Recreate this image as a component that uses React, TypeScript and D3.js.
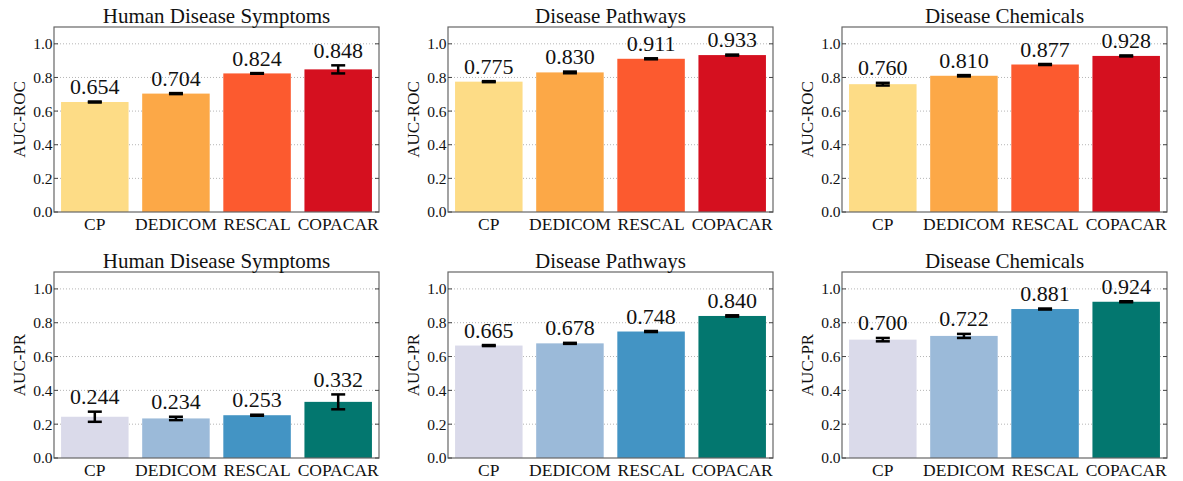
import React from 'react';
import * as d3 from 'd3';

// methods on the x axis, same for every panel
const categories = ['CP', 'DEDICOM', 'RESCAL', 'COPACAR'];
const titles = ['Human Disease Symptoms', 'Disease Pathways', 'Disease Chemicals'];
const yTicks = [0, 0.2, 0.4, 0.6, 0.8, 1.0];

// AUC-ROC means and error (std) per dataset
const rocValues = [
  [0.654, 0.704, 0.824, 0.848],
  [0.775, 0.830, 0.911, 0.933],
  [0.760, 0.810, 0.877, 0.928],
];
const rocErrors = [
  [0.003, 0.003, 0.002, 0.024],
  [0.003, 0.005, 0.003, 0.003],
  [0.008, 0.004, 0.003, 0.003],
];

// AUC-PR means and error per dataset
const prValues = [
  [0.244, 0.234, 0.253, 0.332],
  [0.665, 0.678, 0.748, 0.840],
  [0.700, 0.722, 0.881, 0.924],
];
const prErrors = [
  [0.030, 0.010, 0.003, 0.044],
  [0.003, 0.003, 0.003, 0.004],
  [0.010, 0.012, 0.003, 0.003],
];

const rocColors = ['#fddc86', '#fca847', '#fc5a2f', '#d5101f'];
const prColors = ['#dadaea', '#9bbad9', '#4394c4', '#03776f'];

const W = 1183;
const H = 481;
const FONT = '"Liberation Serif", "Times New Roman", serif';
const panelLeft = [54, 448, 842];
const panelWidth = 325;
const rows = [
  { top: 27, bottom: 212, label: 'AUC-ROC', values: rocValues, errors: rocErrors, colors: rocColors },
  { top: 272, bottom: 458, label: 'AUC-PR', values: prValues, errors: prErrors, colors: prColors },
];

function Panel({ x0, top, bottom, title, label, values, errors, colors }) {
  const x = d3.scaleBand()
    .domain(categories)
    .range([x0, x0 + panelWidth])
    .paddingInner(0.168)
    .paddingOuter(0.087);
  const y = d3.scaleLinear().domain([0, 1.1]).range([bottom, top]);
  const cap = 7;

  return (
    <g>
      {/* grid */}
      {yTicks.filter(t => t > 0).map(t => (
        <line key={t} x1={x0} x2={x0 + panelWidth} y1={y(t)} y2={y(t)}
          stroke="#b5b5b5" strokeWidth={1} strokeDasharray="1,2" />
      ))}
      {/* bars */}
      {categories.map((c, i) => (
        <rect key={c} x={x(c)} y={y(values[i])} width={x.bandwidth()}
          height={y(0) - y(values[i])} fill={colors[i]} />
      ))}
      {/* error bars */}
      {categories.map((c, i) => {
        const cx = x(c) + x.bandwidth() / 2;
        const lo = y(values[i] - errors[i]);
        const hi = y(values[i] + errors[i]);
        return (
          <g key={c} stroke="#000" strokeWidth={2.5}>
            <line x1={cx} x2={cx} y1={lo} y2={hi} />
            <line x1={cx - cap} x2={cx + cap} y1={lo} y2={lo} />
            <line x1={cx - cap} x2={cx + cap} y1={hi} y2={hi} />
          </g>
        );
      })}
      {/* value labels */}
      {categories.map((c, i) => (
        <text key={c} x={x(c) + x.bandwidth() / 2} y={y(values[i] + errors[i]) - 7.5}
          textAnchor="middle" fontSize={22} fontFamily={FONT} fill="#111">
          {values[i].toFixed(3)}
        </text>
      ))}
      {/* frame */}
      <rect x={x0} y={top} width={panelWidth} height={bottom - top}
        fill="none" stroke="#666" strokeWidth={1.2} />
      {/* y ticks */}
      {yTicks.map(t => (
        <g key={t}>
          <line x1={x0} x2={x0 + 4} y1={y(t)} y2={y(t)} stroke="#444" />
          <line x1={x0 + panelWidth - 4} x2={x0 + panelWidth} y1={y(t)} y2={y(t)} stroke="#444" />
          <text x={x0 - 1.5} y={y(t)} dy="0.35em" textAnchor="end" fontSize={15.5}
            fontFamily={FONT} fill="#111">{t.toFixed(1)}</text>
        </g>
      ))}
      {/* category labels */}
      {categories.map(c => (
        <text key={c} x={x(c) + x.bandwidth() / 2} y={bottom + 18} textAnchor="middle"
          fontSize={17.5} fontFamily={FONT} fill="#111">{c}</text>
      ))}
      <text x={x0 + panelWidth / 2} y={top - 4} textAnchor="middle" fontSize={21}
        fontFamily={FONT} fill="#111">{title}</text>
      <text transform={`translate(${x0 - 29},${(top + bottom) / 2}) rotate(-90)`}
        textAnchor="middle" fontSize={17} fontFamily={FONT} fill="#111">{label}</text>
    </g>
  );
}

export default function App() {
  return (
    <svg width={W} height={H} style={{ position: 'absolute', left: 0, top: 0, background: '#fff' }}>
      {rows.map((r, ri) =>
        titles.map((t, pi) => (
          <Panel key={`${ri}-${pi}`} x0={panelLeft[pi]} top={r.top} bottom={r.bottom}
            title={t} label={r.label} values={r.values[pi]} errors={r.errors[pi]}
            colors={r.colors} />
        ))
      )}
    </svg>
  );
}
